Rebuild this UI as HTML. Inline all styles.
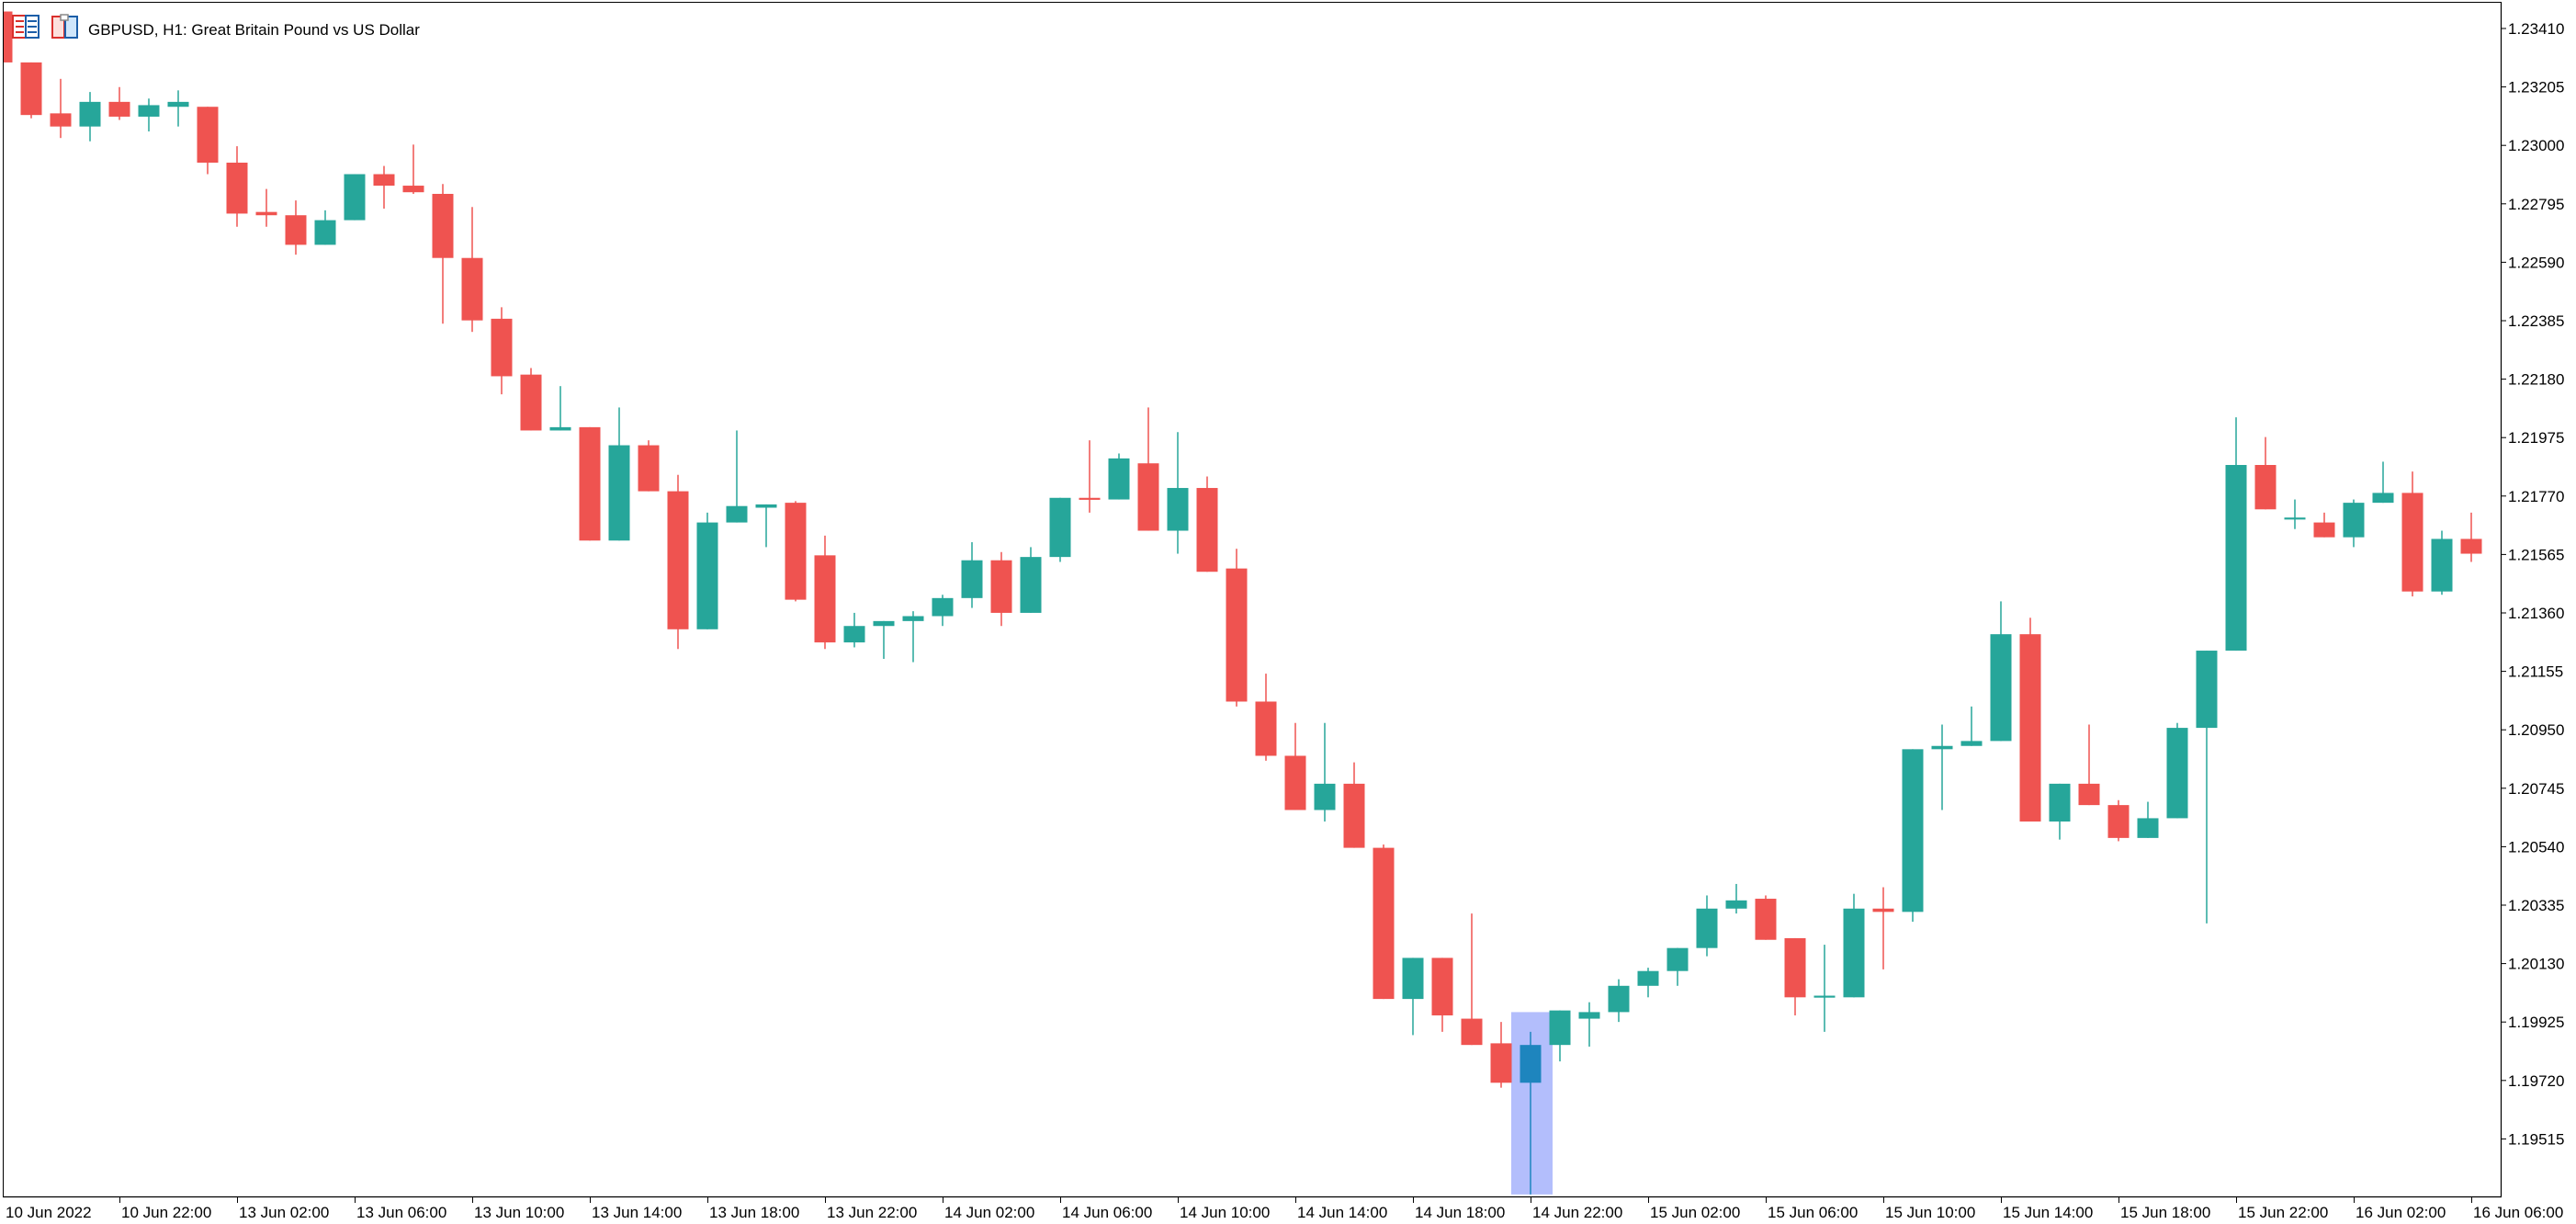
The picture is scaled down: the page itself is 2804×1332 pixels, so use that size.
<!DOCTYPE html>
<html><head><meta charset="utf-8"><style>
html,body{margin:0;padding:0;background:#fff;}
svg{display:block;}
text{font-family:"Liberation Sans","DejaVu Sans",sans-serif;fill:#000;}
</style></head><body>
<svg width="2804" height="1332" viewBox="0 0 2804 1332" xmlns="http://www.w3.org/2000/svg">
<rect width="2804" height="1332" fill="#fff"/>
<defs><clipPath id="pc"><rect x="4" y="3" width="2718" height="1299"/></clipPath></defs>
<g clip-path="url(#pc)">
<g transform="scale(1,1.788)">
<rect x="1645" y="616" width="45" height="111" fill="#b3befc"/>
<g fill="#ef5350">
<rect x="1.25" y="5" width="1.5" height="33"/><rect x="-9.5" y="7" width="23" height="31"/>
<rect x="33.25" y="38" width="1.5" height="34"/><rect x="22.5" y="38" width="23" height="32"/>
<rect x="65.25" y="48" width="1.5" height="36"/><rect x="54.5" y="69" width="23" height="8"/>
<rect x="129.25" y="53" width="1.5" height="20"/><rect x="118.5" y="62" width="23" height="9"/>
<rect x="225.25" y="65" width="1.5" height="41"/><rect x="214.5" y="65" width="23" height="34"/>
<rect x="257.25" y="89" width="1.5" height="49"/><rect x="246.5" y="99" width="23" height="31"/>
<rect x="289.25" y="115" width="1.5" height="23"/><rect x="278.5" y="129" width="23" height="2"/>
<rect x="321.25" y="122" width="1.5" height="33"/><rect x="310.5" y="131" width="23" height="18"/>
<rect x="417.25" y="101" width="1.5" height="26"/><rect x="406.5" y="106" width="23" height="7"/>
<rect x="449.25" y="88" width="1.5" height="30"/><rect x="438.5" y="113" width="23" height="4"/>
<rect x="481.25" y="112" width="1.5" height="85"/><rect x="470.5" y="118" width="23" height="39"/>
<rect x="513.25" y="126" width="1.5" height="76"/><rect x="502.5" y="157" width="23" height="38"/>
<rect x="545.25" y="187" width="1.5" height="53"/><rect x="534.5" y="194" width="23" height="35"/>
<rect x="577.25" y="224" width="1.5" height="38"/><rect x="566.5" y="228" width="23" height="34"/>
<rect x="641.25" y="260" width="1.5" height="69"/><rect x="630.5" y="260" width="23" height="69"/>
<rect x="705.25" y="268" width="1.5" height="31"/><rect x="694.5" y="271" width="23" height="28"/>
<rect x="737.25" y="289" width="1.5" height="106"/><rect x="726.5" y="299" width="23" height="84"/>
<rect x="865.25" y="305" width="1.5" height="61"/><rect x="854.5" y="306" width="23" height="59"/>
<rect x="897.25" y="326" width="1.5" height="69"/><rect x="886.5" y="338" width="23" height="53"/>
<rect x="1089.25" y="336" width="1.5" height="45"/><rect x="1078.5" y="341" width="23" height="32"/>
<rect x="1185.25" y="268" width="1.5" height="44"/><rect x="1174.5" y="303" width="23" height="1.2"/>
<rect x="1249.25" y="248" width="1.5" height="75"/><rect x="1238.5" y="282" width="23" height="41"/>
<rect x="1313.25" y="290" width="1.5" height="58"/><rect x="1302.5" y="297" width="23" height="51"/>
<rect x="1345.25" y="334" width="1.5" height="96"/><rect x="1334.5" y="346" width="23" height="81"/>
<rect x="1377.25" y="410" width="1.5" height="53"/><rect x="1366.5" y="427" width="23" height="33"/>
<rect x="1409.25" y="440" width="1.5" height="53"/><rect x="1398.5" y="460" width="23" height="33"/>
<rect x="1473.25" y="464" width="1.5" height="52"/><rect x="1462.5" y="477" width="23" height="39"/>
<rect x="1505.25" y="514" width="1.5" height="94"/><rect x="1494.5" y="516" width="23" height="92"/>
<rect x="1569.25" y="583" width="1.5" height="45"/><rect x="1558.5" y="583" width="23" height="35"/>
<rect x="1601.25" y="556" width="1.5" height="80"/><rect x="1590.5" y="620" width="23" height="16"/>
<rect x="1633.25" y="622" width="1.5" height="40"/><rect x="1622.5" y="635" width="23" height="24"/>
<rect x="1921.25" y="545" width="1.5" height="27"/><rect x="1910.5" y="547" width="23" height="25"/>
<rect x="1953.25" y="571" width="1.5" height="47"/><rect x="1942.5" y="571" width="23" height="36"/>
<rect x="2049.25" y="540" width="1.5" height="50"/><rect x="2038.5" y="553" width="23" height="2"/>
<rect x="2209.25" y="376" width="1.5" height="124"/><rect x="2198.5" y="386" width="23" height="114"/>
<rect x="2273.25" y="441" width="1.5" height="49"/><rect x="2262.5" y="477" width="23" height="13"/>
<rect x="2305.25" y="487" width="1.5" height="25"/><rect x="2294.5" y="490" width="23" height="20"/>
<rect x="2465.25" y="266" width="1.5" height="44"/><rect x="2454.5" y="283" width="23" height="27"/>
<rect x="2529.25" y="312" width="1.5" height="15"/><rect x="2518.5" y="318" width="23" height="9"/>
<rect x="2625.25" y="287" width="1.5" height="76"/><rect x="2614.5" y="300" width="23" height="60"/>
<rect x="2689.25" y="312" width="1.5" height="30"/><rect x="2678.5" y="328" width="23" height="9"/>
</g>
<g fill="#26a69a">
<rect x="97.25" y="56" width="1.5" height="30"/><rect x="86.5" y="62" width="23" height="15"/>
<rect x="161.25" y="60" width="1.5" height="20"/><rect x="150.5" y="64" width="23" height="7"/>
<rect x="193.25" y="55" width="1.5" height="22"/><rect x="182.5" y="62" width="23" height="3"/>
<rect x="353.25" y="128" width="1.5" height="21"/><rect x="342.5" y="134" width="23" height="15"/>
<rect x="385.25" y="106" width="1.5" height="28"/><rect x="374.5" y="106" width="23" height="28"/>
<rect x="609.25" y="235" width="1.5" height="27"/><rect x="598.5" y="260" width="23" height="2"/>
<rect x="673.25" y="248" width="1.5" height="81"/><rect x="662.5" y="271" width="23" height="58"/>
<rect x="769.25" y="312" width="1.5" height="71"/><rect x="758.5" y="318" width="23" height="65"/>
<rect x="801.25" y="262" width="1.5" height="56"/><rect x="790.5" y="308" width="23" height="10"/>
<rect x="833.25" y="307" width="1.5" height="26"/><rect x="822.5" y="307" width="23" height="2"/>
<rect x="929.25" y="373" width="1.5" height="21"/><rect x="918.5" y="381" width="23" height="10"/>
<rect x="961.25" y="378" width="1.5" height="23"/><rect x="950.5" y="378" width="23" height="3"/>
<rect x="993.25" y="372" width="1.5" height="31"/><rect x="982.5" y="375" width="23" height="3"/>
<rect x="1025.25" y="362" width="1.5" height="19"/><rect x="1014.5" y="364" width="23" height="11"/>
<rect x="1057.25" y="330" width="1.5" height="40"/><rect x="1046.5" y="341" width="23" height="23"/>
<rect x="1121.25" y="333" width="1.5" height="40"/><rect x="1110.5" y="339" width="23" height="34"/>
<rect x="1153.25" y="303" width="1.5" height="39"/><rect x="1142.5" y="303" width="23" height="36"/>
<rect x="1217.25" y="276" width="1.5" height="28"/><rect x="1206.5" y="279" width="23" height="25"/>
<rect x="1281.25" y="263" width="1.5" height="74"/><rect x="1270.5" y="297" width="23" height="26"/>
<rect x="1441.25" y="440" width="1.5" height="60"/><rect x="1430.5" y="477" width="23" height="16"/>
<rect x="1537.25" y="583" width="1.5" height="47"/><rect x="1526.5" y="583" width="23" height="25"/>
<rect x="1697.25" y="615" width="1.5" height="31"/><rect x="1686.5" y="615" width="23" height="21"/>
<rect x="1729.25" y="610" width="1.5" height="27"/><rect x="1718.5" y="616" width="23" height="4"/>
<rect x="1761.25" y="596" width="1.5" height="26"/><rect x="1750.5" y="600" width="23" height="16"/>
<rect x="1793.25" y="589" width="1.5" height="18"/><rect x="1782.5" y="591" width="23" height="9"/>
<rect x="1825.25" y="577" width="1.5" height="23"/><rect x="1814.5" y="577" width="23" height="14"/>
<rect x="1857.25" y="545" width="1.5" height="37"/><rect x="1846.5" y="553" width="23" height="24"/>
<rect x="1889.25" y="538" width="1.5" height="18"/><rect x="1878.5" y="548" width="23" height="5"/>
<rect x="1985.25" y="575" width="1.5" height="53"/><rect x="1974.5" y="606" width="23" height="1.2"/>
<rect x="2017.25" y="544" width="1.5" height="63"/><rect x="2006.5" y="553" width="23" height="54"/>
<rect x="2081.25" y="456" width="1.5" height="105"/><rect x="2070.5" y="456" width="23" height="99"/>
<rect x="2113.25" y="441" width="1.5" height="52"/><rect x="2102.5" y="454" width="23" height="2"/>
<rect x="2145.25" y="430" width="1.5" height="24"/><rect x="2134.5" y="451" width="23" height="3"/>
<rect x="2177.25" y="366" width="1.5" height="85"/><rect x="2166.5" y="386" width="23" height="65"/>
<rect x="2241.25" y="477" width="1.5" height="34"/><rect x="2230.5" y="477" width="23" height="23"/>
<rect x="2337.25" y="488" width="1.5" height="22"/><rect x="2326.5" y="498" width="23" height="12"/>
<rect x="2369.25" y="440" width="1.5" height="58"/><rect x="2358.5" y="443" width="23" height="55"/>
<rect x="2401.25" y="396" width="1.5" height="166"/><rect x="2390.5" y="396" width="23" height="47"/>
<rect x="2433.25" y="254" width="1.5" height="142"/><rect x="2422.5" y="283" width="23" height="113"/>
<rect x="2497.25" y="304" width="1.5" height="18"/><rect x="2486.5" y="315" width="23" height="1.2"/>
<rect x="2561.25" y="304" width="1.5" height="29"/><rect x="2550.5" y="306" width="23" height="21"/>
<rect x="2593.25" y="281" width="1.5" height="25"/><rect x="2582.5" y="300" width="23" height="6"/>
<rect x="2657.25" y="323" width="1.5" height="39"/><rect x="2646.5" y="328" width="23" height="32"/>
</g>
<g fill="#1e85be">
<rect x="1665.25" y="628" width="1.5" height="99"/><rect x="1654.5" y="636" width="23" height="23"/>
</g>
</g>
</g>
<line x1="3.5" y1="2" x2="3.5" y2="1302" stroke="#000" stroke-width="1"/>
<line x1="3" y1="2.5" x2="2722" y2="2.5" stroke="#000" stroke-width="1"/>
<line x1="2722.5" y1="2" x2="2722.5" y2="1302" stroke="#000" stroke-width="1.2"/>
<line x1="3" y1="1302.5" x2="2723" y2="1302.5" stroke="#000" stroke-width="1.2"/>
<rect x="14" y="17" width="28" height="24" fill="#fff" stroke="#d9302c" stroke-width="2"/>
<rect x="28" y="17" width="14" height="24" fill="#fff" stroke="#1c5ea8" stroke-width="2"/>
<line x1="17" y1="23" x2="26" y2="23" stroke="#d9302c" stroke-width="2"/><line x1="17" y1="29" x2="26" y2="29" stroke="#d9302c" stroke-width="2"/><line x1="17" y1="35" x2="26" y2="35" stroke="#d9302c" stroke-width="2"/>
<line x1="30" y1="23" x2="40" y2="23" stroke="#1c5ea8" stroke-width="2"/><line x1="30" y1="29" x2="40" y2="29" stroke="#1c5ea8" stroke-width="2"/><line x1="30" y1="35" x2="40" y2="35" stroke="#1c5ea8" stroke-width="2"/>
<rect x="57" y="18" width="13" height="23" fill="#fde0dc" stroke="#d9302c" stroke-width="2"/>
<rect x="71" y="18" width="13" height="23" fill="#cfe6fb" stroke="#1c5ea8" stroke-width="2"/>
<rect x="66" y="16" width="8" height="6" fill="#fff" stroke="#888" stroke-width="1.5"/>
<text x="96" y="38" font-size="17">GBPUSD, H1:  Great Britain Pound vs US Dollar</text>
<g stroke="#000" stroke-width="1">
<line x1="2722" y1="31" x2="2728" y2="31"/><line x1="2722" y1="94.6" x2="2728" y2="94.6"/><line x1="2722" y1="158.2" x2="2728" y2="158.2"/><line x1="2722" y1="221.8" x2="2728" y2="221.8"/><line x1="2722" y1="285.4" x2="2728" y2="285.4"/><line x1="2722" y1="349" x2="2728" y2="349"/><line x1="2722" y1="412.6" x2="2728" y2="412.6"/><line x1="2722" y1="476.2" x2="2728" y2="476.2"/><line x1="2722" y1="539.8" x2="2728" y2="539.8"/><line x1="2722" y1="603.4" x2="2728" y2="603.4"/><line x1="2722" y1="667" x2="2728" y2="667"/><line x1="2722" y1="730.6" x2="2728" y2="730.6"/><line x1="2722" y1="794.2" x2="2728" y2="794.2"/><line x1="2722" y1="857.8" x2="2728" y2="857.8"/><line x1="2722" y1="921.4" x2="2728" y2="921.4"/><line x1="2722" y1="985" x2="2728" y2="985"/><line x1="2722" y1="1048.6" x2="2728" y2="1048.6"/><line x1="2722" y1="1112.2" x2="2728" y2="1112.2"/><line x1="2722" y1="1175.8" x2="2728" y2="1175.8"/><line x1="2722" y1="1239.4" x2="2728" y2="1239.4"/>
</g>
<g font-size="17">
<text x="2730" y="37">1.23410</text><text x="2730" y="100.6">1.23205</text><text x="2730" y="164.2">1.23000</text><text x="2730" y="227.8">1.22795</text><text x="2730" y="291.4">1.22590</text><text x="2730" y="355">1.22385</text><text x="2730" y="418.6">1.22180</text><text x="2730" y="482.2">1.21975</text><text x="2730" y="545.8">1.21770</text><text x="2730" y="609.4">1.21565</text><text x="2730" y="673">1.21360</text><text x="2730" y="736.6">1.21155</text><text x="2730" y="800.2">1.20950</text><text x="2730" y="863.8">1.20745</text><text x="2730" y="927.4">1.20540</text><text x="2730" y="991">1.20335</text><text x="2730" y="1054.6">1.20130</text><text x="2730" y="1118.2">1.19925</text><text x="2730" y="1181.8">1.19720</text><text x="2730" y="1245.4">1.19515</text>
</g>
<g stroke="#000" stroke-width="1">
<line x1="130.5" y1="1302" x2="130.5" y2="1309"/><line x1="258.5" y1="1302" x2="258.5" y2="1309"/><line x1="386.5" y1="1302" x2="386.5" y2="1309"/><line x1="514.5" y1="1302" x2="514.5" y2="1309"/><line x1="642.5" y1="1302" x2="642.5" y2="1309"/><line x1="770.5" y1="1302" x2="770.5" y2="1309"/><line x1="898.5" y1="1302" x2="898.5" y2="1309"/><line x1="1026.5" y1="1302" x2="1026.5" y2="1309"/><line x1="1154.5" y1="1302" x2="1154.5" y2="1309"/><line x1="1282.5" y1="1302" x2="1282.5" y2="1309"/><line x1="1410.5" y1="1302" x2="1410.5" y2="1309"/><line x1="1538.5" y1="1302" x2="1538.5" y2="1309"/><line x1="1666.5" y1="1302" x2="1666.5" y2="1309"/><line x1="1794.5" y1="1302" x2="1794.5" y2="1309"/><line x1="1922.5" y1="1302" x2="1922.5" y2="1309"/><line x1="2050.5" y1="1302" x2="2050.5" y2="1309"/><line x1="2178.5" y1="1302" x2="2178.5" y2="1309"/><line x1="2306.5" y1="1302" x2="2306.5" y2="1309"/><line x1="2434.5" y1="1302" x2="2434.5" y2="1309"/><line x1="2562.5" y1="1302" x2="2562.5" y2="1309"/><line x1="2690.5" y1="1302" x2="2690.5" y2="1309"/>
</g>
<g font-size="17">
<text x="6" y="1325">10 Jun 2022</text><text x="132" y="1325">10 Jun 22:00</text><text x="260" y="1325">13 Jun 02:00</text><text x="388" y="1325">13 Jun 06:00</text><text x="516" y="1325">13 Jun 10:00</text><text x="644" y="1325">13 Jun 14:00</text><text x="772" y="1325">13 Jun 18:00</text><text x="900" y="1325">13 Jun 22:00</text><text x="1028" y="1325">14 Jun 02:00</text><text x="1156" y="1325">14 Jun 06:00</text><text x="1284" y="1325">14 Jun 10:00</text><text x="1412" y="1325">14 Jun 14:00</text><text x="1540" y="1325">14 Jun 18:00</text><text x="1668" y="1325">14 Jun 22:00</text><text x="1796" y="1325">15 Jun 02:00</text><text x="1924" y="1325">15 Jun 06:00</text><text x="2052" y="1325">15 Jun 10:00</text><text x="2180" y="1325">15 Jun 14:00</text><text x="2308" y="1325">15 Jun 18:00</text><text x="2436" y="1325">15 Jun 22:00</text><text x="2564" y="1325">16 Jun 02:00</text><text x="2692" y="1325">16 Jun 06:00</text>
</g>
</svg>
</body></html>
